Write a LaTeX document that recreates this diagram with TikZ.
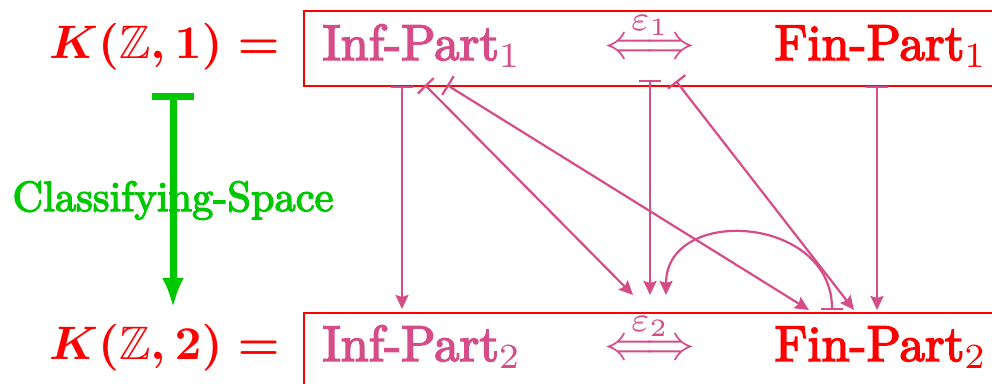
\documentclass[tikz,border=0pt]{standalone}
\usepackage{amsmath,amssymb,graphicx}
\usepackage{fontspec}
\newfontfamily\heavyrm{lmroman10-regular.otf}[FakeBold=3]
\usetikzlibrary{arrows.meta}
\definecolor{infpink}{RGB}{214,76,136}
\definecolor{clsgreen}{RGB}{0,200,0}
\newcommand{\bigtext}[1]{\scalebox{2.53}{\heavyrm #1}}
\newcommand{\kzlabel}[1]{\scalebox{2.35}{\boldmath$K(\mathbb{Z},#1) =$}}
\newcommand{\epsarrow}[1]{\scalebox{2.5}{$\overset{\varepsilon_{#1}}{\Longleftrightarrow}$}}
\tikzset{
  rowbox/.style={draw=red,line width=1pt,anchor=north west,inner sep=0pt,minimum width=360pt},
  part/.style={anchor=base west,inner sep=0pt},
  maparrow/.style={draw=infpink,line width=1.1pt,{Bar[width=11pt]}-{Stealth[length=7pt,width=6.5pt,inset=1pt]}},
  clsarrow/.style={draw=clsgreen,line width=3.5pt,{Bar[width=21pt]}-{Latex[length=15pt,width=11pt]}},
}
\begin{document}
\begin{tikzpicture}[x=0.5pt,y=-0.5pt]
  \useasboundingbox (0,0) rectangle (992,384);
  \node[rowbox,minimum height=37.5pt] (row1) at (303,10) {};
  \node[rowbox,minimum height=80pt] (row2) at (303,312) {};
  \node[part,anchor=base east,text=red] (K1) at (280,59) {\kzlabel{1}};
  \node[part,anchor=base east,text=red] (K2) at (280,360) {\kzlabel{2}};
  \node[part,text=infpink] (inf1) at (322,60) {\bigtext{Inf-Part$_1$}};
  \node[part,text=infpink] (inf2) at (322,361) {\bigtext{Inf-Part$_2$}};
  \node[part,anchor=base,text=infpink] (eps1) at (650,59) {\epsarrow{1}};
  \node[part,anchor=base,text=infpink] (eps2) at (650,360) {\epsarrow{2}};
  \node[part,text=red] (fin1) at (774,60) {\bigtext{Fin-Part$_1$}};
  \node[part,text=red] (fin2) at (774,361) {\bigtext{Fin-Part$_2$}};
  \coordinate (g1) at (173,93);
  \coordinate (g2) at (173,308);
  \draw[clsarrow] (g1) -- (g2) node[midway,text=clsgreen] (cls) {\scalebox{2.12}{\heavyrm Classifying-Space}};
  \coordinate (a1) at (402,86);  \coordinate (b1) at (402,309);
  \coordinate (a2) at (425,85);  \coordinate (b2) at (633,295);
  \coordinate (a3) at (447,85);  \coordinate (b3) at (809,310);
  \coordinate (a4) at (650,80);  \coordinate (b4) at (650,295);
  \coordinate (a5) at (676,81);  \coordinate (b5) at (854,310);
  \coordinate (a6) at (877,86);  \coordinate (b6) at (877,310);
  \coordinate (a7) at (832,310); \coordinate (b7) at (666,295);
  \foreach \i in {1,...,6} \draw[maparrow] (a\i) -- (b\i);
  \draw[maparrow] (a7) .. controls (832,215) and (666,205) .. (b7);
\end{tikzpicture}
\end{document}
